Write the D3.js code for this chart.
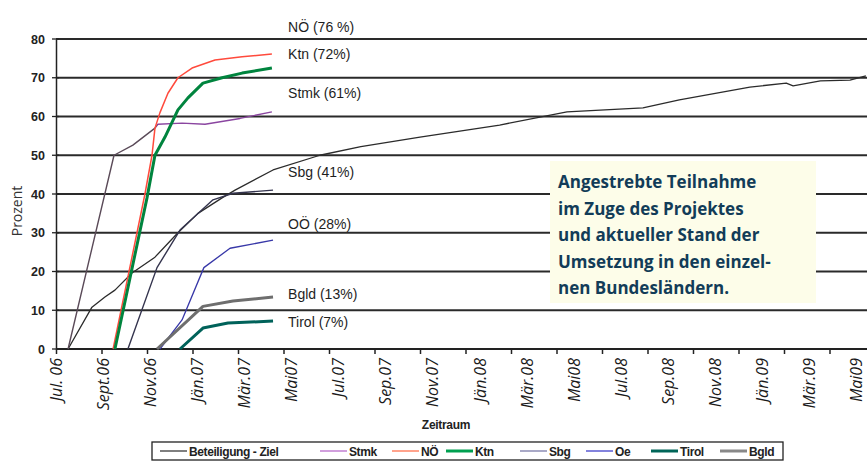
<!DOCTYPE html>
<html>
<head>
<meta charset="utf-8">
<script src="https://cdn.jsdelivr.net/npm/d3@7"></script>
<style>
  body { margin: 0; background: #fff; }
  svg { display: block; }
  .tick-label { font-family: "Open Sans", sans-serif; font-style: italic; font-size: 16px; fill: #1a1a1a; }
  .y-label { font-family: "Liberation Sans", Arial, sans-serif; font-weight: bold; font-size: 12.5px; fill: #222; }
  .end-label { font-family: "Liberation Sans", Arial, sans-serif; font-size: 14px; fill: #1e1e1e; }
  .legend-text { font-family: "Liberation Sans", sans-serif; font-weight: bold; font-size: 12px; fill: #222; }
  .note { font-family: "Open Sans", sans-serif; font-weight: 700; font-size: 17px; fill: #123c58; }
</style>
</head>
<body>
<svg id="chart" width="867" height="461"></svg>
<script>
// x values: months since 1 Jul 2006
const monthLabels = ["Jul. 06", "Sept.06", "Nov.06", "Jän.07", "Mär.07", "Mai07", "Jul.07", "Sep.07", "Nov.07",
    "Jän.08", "Mär.08", "Mai08", "Jul.08", "Sep.08", "Nov.08", "Jän.09", "Mär.09", "Mai09"];
const yTicks = [0, 10, 20, 30, 40, 50, 60, 70, 80];

const zielMonate = [0.53, 1.58, 2.15, 2.59, 3.34, 4.35, 5.36, 6.24, 7.30, 7.87, 9.54, 11.6, 13.4, 16.0, 19.5, 22.46, 25.8, 27.4, 30.5, 32.1, 32.4, 33.6, 34.9, 35.6];
const zielWerte  = [0, 10.8, 13.4, 15.2, 19.6, 23.7, 30, 35, 39, 41, 46.2, 50, 52.2, 54.7, 57.8, 61.2, 62.2, 64.3, 67.6, 68.6, 67.9, 69.2, 69.4, 70.5];

const stmkMonate = [0.53, 2.55, 3.38, 4.35, 4.48, 5.54, 6.55, 8.09, 9.49];
const stmkWerte  = [0, 50, 52.6, 57, 58, 58.3, 58, 59.5, 61.2];

const noeMonate = [2.51, 3.91, 4.22, 4.35, 4.57, 4.92, 5.36, 5.98, 6.99, 8.18, 9.49];
const noeWerte  = [0, 40, 50, 57, 61, 66, 70, 72.5, 74.6, 75.4, 76.1];

const ktnMonate = [2.59, 4.0, 4.35, 4.79, 5.36, 5.8, 6.46, 7.3, 8.18, 9.49];
const ktnWerte  = [0, 39, 50, 54.7, 61.7, 64.8, 68.6, 70, 71.2, 72.5];

const sbgMonate = [3.16, 4.44, 5.45, 6.9, 7.78, 9.54];
const sbgWerte  = [0, 21, 30.7, 38.5, 40.2, 41];

const ooeMonate = [4.57, 5.54, 6.5, 7.65, 9.54];
const ooeWerte  = [0, 7.5, 21, 26, 28.1];

const bgldMonate = [4.44, 6.46, 7.78, 9.54];
const bgldWerte  = [0, 11, 12.4, 13.4];

const tirolMonate = [5.45, 6.46, 7.56, 9.54];
const tirolWerte  = [0, 5.4, 6.7, 7.2];

const endLabels = ["NÖ (76 %)", "Ktn (72%)", "Stmk (61%)", "Sbg (41%)", "OÖ (28%)", "Bgld (13%)", "Tirol (7%)"];
const legendNames = ["Beteiligung - Ziel", "Stmk", "NÖ", "Ktn", "Sbg", "Oe", "Tirol", "Bgld"];
const noteLines = ["Angestrebte Teilnahme", "im Zuge des Projektes", "und aktueller Stand der",
    "Umsetzung in den einzel-", "nen Bundesländern."];

// drawing order and style
const series = [
    { x: zielMonate, y: zielWerte, color: "#2b2b2b", width: 1.3 },
    { x: stmkMonate, y: stmkWerte, color: "url(#stmkFade)", width: 1.4 },
    { x: sbgMonate, y: sbgWerte, color: "#34344e", width: 1.4 },
    { x: ooeMonate, y: ooeWerte, color: "#3838a8", width: 1.3 },
    { x: bgldMonate, y: bgldWerte, color: "#6e6e6e", width: 3 },
    { x: tirolMonate, y: tirolWerte, color: "#00625a", width: 3 },
    { x: noeMonate, y: noeWerte, color: "#ff4a3c", width: 1.5 },
    { x: ktnMonate, y: ktnWerte, color: "#00843e", width: 3 }
];
const legendStyle = [
    { color: "#555", width: 1.5, x: 160 }, { color: "#c27fd2", width: 1.5, x: 320 },
    { color: "#ff8466", width: 1.5, x: 392 }, { color: "#00a050", width: 3, x: 446 },
    { color: "#8c8cb4", width: 1.5, x: 520 }, { color: "#5a5ad2", width: 1.5, x: 586 },
    { color: "#006558", width: 3, x: 651 }, { color: "#888", width: 3, x: 720 }
];
const endLabelValues = [83.1, 76.1, 66, 45.6, 32.3, 14.1, 7.0];

const svg = d3.select("#chart");
const plotLeft = 56, plotTop = 39, plotBottom = 349;

const xScale = d3.scaleLinear().domain([0, 36]).range([plotLeft, plotLeft + 36 * 22.75]);
const labelScale = d3.scaleLinear().domain([0, monthLabels.length - 1]).range([57, 857]);
const yScale = d3.scaleLinear().domain([0, 80]).range([plotBottom, plotTop]);

// Stmk is drawn dark up to the kink, purple after it
const grad = svg.append("defs").append("linearGradient")
    .attr("id", "stmkFade")
    .attr("gradientUnits", "userSpaceOnUse")
    .attr("x1", xScale(0)).attr("x2", xScale(10)).attr("y1", 0).attr("y2", 0);
grad.append("stop").attr("offset", 0.43).attr("stop-color", "#5a4a58");
grad.append("stop").attr("offset", 0.45).attr("stop-color", "#8a45a0");

// gridlines
svg.append("g").selectAll("line")
    .data(yTicks.filter(d => d > 0))
    .join("line")
    .attr("x1", plotLeft).attr("x2", 867)
    .attr("y1", d => yScale(d)).attr("y2", d => yScale(d))
    .attr("stroke", "#2a2a2a").attr("stroke-width", 1.8);

// y axis
const yAxis = d3.axisLeft(yScale).tickValues(yTicks).tickSize(0).tickFormat("");
svg.append("g").attr("transform", `translate(${plotLeft},0)`).call(yAxis)
    .call(g => g.select(".domain").attr("stroke", "#222").attr("stroke-width", 1.5));
svg.append("g").selectAll("line")
    .data(yTicks)
    .join("line")
    .attr("x1", plotLeft - 4).attr("x2", plotLeft + 3)
    .attr("y1", d => yScale(d)).attr("y2", d => yScale(d))
    .attr("stroke", "#222").attr("stroke-width", 1.3);
svg.append("g").selectAll("text")
    .data(yTicks)
    .join("text")
    .attr("class", "y-label")
    .attr("x", 45).attr("y", d => yScale(d) + 4.5)
    .attr("text-anchor", "end")
    .text(d => d);

svg.append("text")
    .attr("transform", "translate(22,211) rotate(-90)")
    .attr("text-anchor", "middle")
    .style("font-family", "'Open Sans', sans-serif")
    .style("font-size", "14px")
    .style("fill", "#333")
    .text("Prozent");

// x axis
const xAxis = d3.axisBottom(xScale).tickValues(d3.range(0, 37, 2)).tickSize(5).tickFormat("");
svg.append("g").attr("transform", `translate(0,${plotBottom})`).call(xAxis)
    .call(g => g.select(".domain").attr("d", `M${plotLeft},0H867`).attr("stroke", "#222").attr("stroke-width", 1.8))
    .call(g => g.selectAll(".tick line").attr("stroke", "#222").attr("stroke-width", 1.5));

svg.append("g").selectAll("text")
    .data(monthLabels)
    .join("text")
    .attr("class", "tick-label")
    .attr("transform", (d, i) => `translate(${labelScale(i) + 5},358) rotate(-90)`)
    .attr("text-anchor", "end")
    .text(d => d);

svg.append("text")
    .attr("x", 446).attr("y", 429)
    .attr("text-anchor", "middle")
    .style("font-family", "'Liberation Sans', sans-serif")
    .style("font-weight", "bold")
    .style("font-size", "12px")
    .style("letter-spacing", "-0.3px")
    .style("fill", "#222")
    .text("Zeitraum");

// data lines
const line = d3.line()
    .x(d => xScale(d[0]))
    .y(d => yScale(d[1]));

svg.append("g").selectAll("path")
    .data(series)
    .join("path")
    .attr("d", s => line(d3.zip(s.x, s.y)))
    .attr("fill", "none")
    .attr("stroke", s => s.color)
    .attr("stroke-width", s => s.width)
    .attr("stroke-linejoin", "round");

// end labels
svg.append("g").selectAll("text")
    .data(endLabels)
    .join("text")
    .attr("class", "end-label")
    .attr("x", xScale(10.2))
    .attr("y", (d, i) => yScale(endLabelValues[i]) + 5)
    .text(d => d);

// note box
const note = svg.append("g");
note.append("rect")
    .attr("x", 550).attr("y", 161).attr("width", 266).attr("height", 142)
    .attr("fill", "#fdfde9");
note.selectAll("text")
    .data(noteLines)
    .join("text")
    .attr("class", "note")
    .attr("x", 558)
    .attr("y", (d, i) => 188 + i * 26.5)
    .text(d => d);

// legend
const legend = svg.append("g");
legend.append("rect")
    .attr("x", 152).attr("y", 442).attr("width", 631).attr("height", 18)
    .attr("fill", "#fff").attr("stroke", "#222").attr("stroke-width", 1.3);
legendNames.forEach((name, i) => {
    const st = legendStyle[i];
    legend.append("line")
        .attr("x1", st.x).attr("x2", st.x + 27)
        .attr("y1", 451).attr("y2", 451)
        .attr("stroke", st.color).attr("stroke-width", st.width);
    legend.append("text")
        .attr("class", "legend-text")
        .attr("x", st.x + 29).attr("y", 455.5)
        .style("letter-spacing", "-0.4px")
        .text(name);
});
</script>
</body>
</html>
